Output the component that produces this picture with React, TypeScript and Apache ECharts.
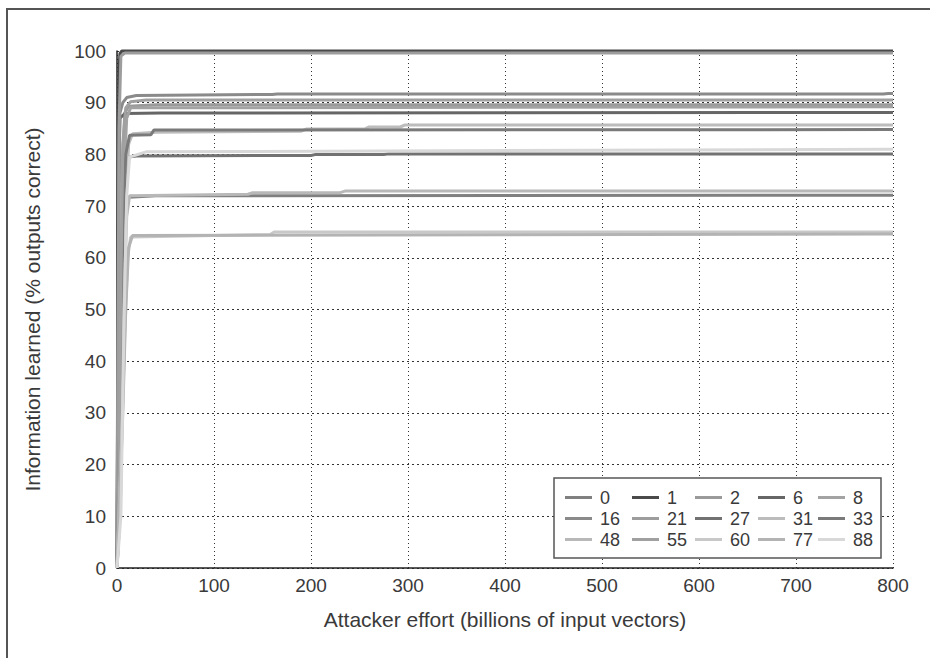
import React, { useEffect, useRef } from "react";
import * as echarts from "echarts";

const xTicks = [0, 100, 200, 300, 400, 500, 600, 700, 800];
const yTicks = [0, 10, 20, 30, 40, 50, 60, 70, 80, 90, 100];

const seriesNames = ["0", "1", "2", "6", "8", "16", "21", "27", "31", "33", "48", "55", "60", "77", "88"];
const seriesColors = [
  "#808080", "#4a4a4a", "#9a9a9a", "#666666", "#a3a3a3",
  "#8a8a8a", "#9d9d9d", "#727272", "#bcbcbc", "#7a7a7a",
  "#b8b8b8", "#a0a0a0", "#c8c8c8", "#b3b3b3", "#d8d8d8",
];

const s0 = [[0, 0], [3, 20], [6, 55], [9, 70], [12, 71.7], [40, 72], [800, 72.1]];
const s1 = [[0, 0], [1, 60], [2, 96], [3, 99.5], [5, 100], [800, 100]];
const s2 = [[0, 0], [2, 15], [4, 50], [6, 80], [8, 88], [12, 89.3], [40, 89.6], [800, 89.6]];
const s6 = [[0, 0], [1, 50], [2, 80], [3, 87], [8, 87.9], [45, 88], [800, 88.1]];
const s8 = [[0, 0], [3, 10], [5, 45], [7, 75], [10, 87], [14, 89], [800, 89.2]];
const s16 = [[0, 0], [1, 30], [2, 70], [3, 88], [6, 90], [10, 91], [20, 91.4], [160, 91.6], [165, 91.7], [790, 91.7], [795, 91.8], [800, 91.8]];
const s21 = [[0, 0], [1, 40], [2, 85], [4, 99], [8, 99.6], [800, 99.6]];
const s27 = [[0, 0], [3, 25], [6, 60], [9, 75], [12, 79.5], [20, 79.7], [200, 79.8], [205, 80], [275, 80], [280, 80.1], [800, 80.1]];
const s31 = [[0, 0], [3, 10], [6, 40], [9, 70], [12, 82], [16, 84], [40, 84.3], [190, 84.5], [195, 84.9], [255, 84.9], [260, 85.3], [292, 85.3], [297, 85.7], [800, 85.7]];
const s33 = [[0, 0], [3, 30], [6, 65], [9, 80], [13, 83.7], [35, 83.8], [38, 84.7], [800, 84.8]];
const s48 = [[0, 0], [4, 15], [7, 50], [10, 68], [13, 72], [135, 72.3], [140, 72.6], [230, 72.6], [235, 72.9], [800, 72.9]];
const s55 = [[0, 0], [2, 20], [4, 55], [6, 82], [9, 89], [14, 90.2], [30, 90.5], [800, 90.5]];
const s60 = [[0, 0], [2, 10], [5, 26], [8, 45], [11, 60], [14, 64], [158, 64.5], [162, 65], [800, 65]];
const s77 = [[0, 0], [3, 15], [6, 30], [9, 50], [12, 62], [16, 64.3], [800, 64.6]];
const s88 = [[0, 0], [4, 10], [7, 45], [10, 72], [13, 79.5], [30, 80.5], [800, 81]];

const seriesData = [s0, s1, s2, s6, s8, s16, s21, s27, s31, s33, s48, s55, s60, s77, s88];

const legendColumns = [
  ["0", "16", "48"],
  ["1", "21", "55"],
  ["2", "27", "60"],
  ["6", "31", "77"],
  ["8", "33", "88"],
];
const legendColumnLeft = [565, 632, 695, 758, 818];

export default function App() {
  const ref = useRef<HTMLDivElement>(null);
  useEffect(() => {
    document.body.style.margin = "0";
    if (!ref.current) return;
    const chart = echarts.init(ref.current, null, { renderer: "svg" });
    const font = "'Liberation Sans', Arial, sans-serif";
    const option: any = {
      animation: false,
      backgroundColor: "#ffffff",
      grid: { left: 117, top: 51, width: 776, height: 517 },
      xAxis: {
        type: "value",
        min: 0,
        max: 800,
        interval: 100,
        name: "Attacker effort (billions of input vectors)",
        nameLocation: "middle",
        nameGap: 41,
        nameTextStyle: { fontSize: 21, color: "#3a3a3a", fontFamily: font },
        axisLine: { show: true, onZero: false, lineStyle: { color: "#222", width: 1.5 } },
        axisTick: { show: false },
        axisLabel: {
          fontSize: 19,
          color: "#3a3a3a",
          fontFamily: font,
          margin: 8,
          formatter: (v: number) => (xTicks.includes(v) ? String(v) : ""),
        },
        splitLine: { show: true, lineStyle: { color: "#333", type: [1, 3], width: 1 } },
      },
      yAxis: {
        type: "value",
        min: 0,
        max: 100,
        interval: 10,
        name: "Information learned (% outputs correct)",
        nameLocation: "middle",
        nameGap: 74,
        nameTextStyle: { fontSize: 21, color: "#3a3a3a", fontFamily: font },
        axisLine: { show: true, lineStyle: { color: "#222", width: 1.5 } },
        axisTick: { show: false },
        axisLabel: {
          fontSize: 19,
          color: "#3a3a3a",
          fontFamily: font,
          margin: 11,
          formatter: (v: number) => (yTicks.includes(v) ? String(v) : ""),
        },
        splitLine: { show: true, lineStyle: { color: "#333", type: [2, 3], width: 1 } },
      },
      legend: legendColumns.map((col, i) => ({
        orient: "vertical",
        left: legendColumnLeft[i],
        top: 487,
        padding: 0,
        icon: "rect",
        itemWidth: 27,
        itemHeight: 3,
        itemGap: 0,
        selectedMode: false,
        data: col,
        textStyle: { fontSize: 18, lineHeight: 21, color: "#3a3a3a", fontFamily: font, padding: [0, 0, 0, 3] },
      })),
      graphic: [
        {
          type: "rect",
          z: 0,
          silent: true,
          shape: { x: 7, y: 9, width: 1000, height: 1000 },
          style: { fill: "none", stroke: "#555", lineWidth: 2 },
        },
        {
          type: "rect",
          z: 3,
          silent: true,
          shape: { x: 554, y: 478, width: 327, height: 80 },
          style: { fill: "#ffffff", stroke: "#555", lineWidth: 1.5 },
        },
      ],
      series: seriesNames.map((name, i) => ({
        name,
        type: "line",
        data: seriesData[i],
        showSymbol: false,
        symbol: "none",
        clip: false,
        color: seriesColors[i],
        lineStyle: { color: seriesColors[i], width: 3 },
        z: 2,
      })),
    };
    chart.setOption(option);
    return () => chart.dispose();
  }, []);
  return <div ref={ref} style={{ width: 930, height: 658 }} />;
}
